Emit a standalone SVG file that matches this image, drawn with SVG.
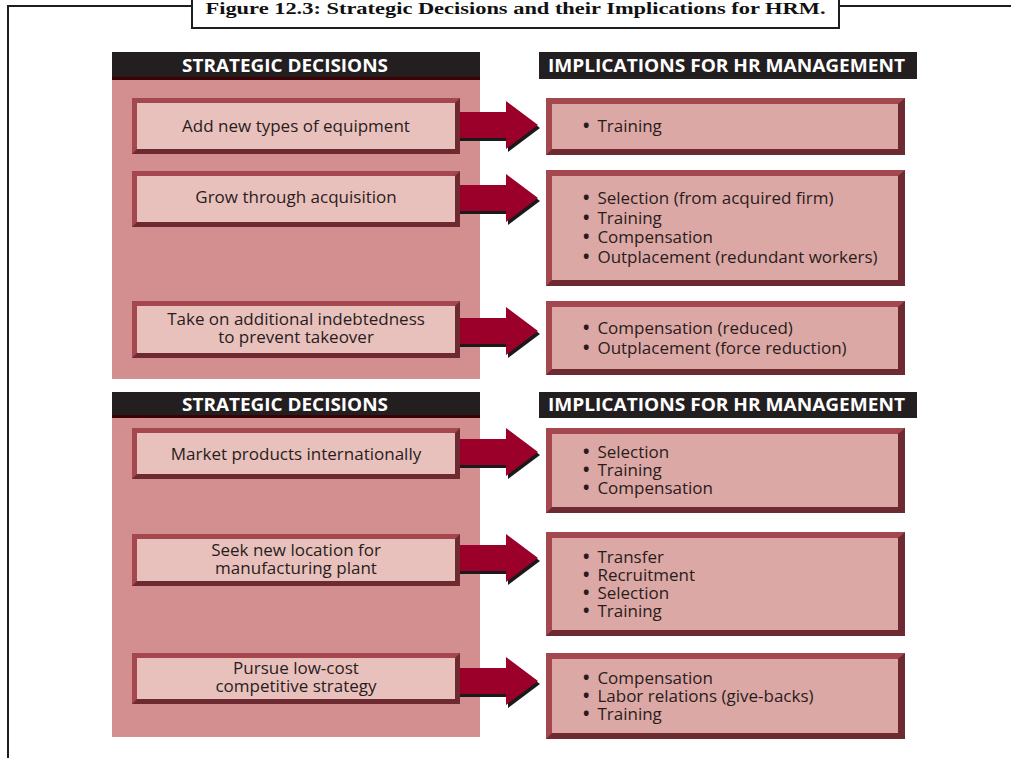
<svg xmlns="http://www.w3.org/2000/svg" width="1011" height="758" viewBox="0 0 1011 758">
<style>
.frame{fill:none;stroke:#1e1e1e;stroke-width:2}
.title{font-family:"Liberation Serif",serif;font-weight:bold;font-size:17px;fill:#111}
.hdr{fill:#231f20}
.stripe{fill:#3a0205}
.panel{fill:#d38f8f}
.hdrtxt{font-family:"Open Sans",sans-serif;font-weight:bold;font-size:17px;fill:#fff}
.bdark{fill:#6d2a31}
.blight{fill:#a5474e}
.linner{fill:#e8c1bd}
.rinner{fill:#dca8a5}
.t{font-family:"Open Sans",sans-serif;font-size:17px;fill:#2a1c1c}
.b{font-weight:bold}
.arr{fill:#9a0029}
.shd{fill:#1a1a1a}
</style>
<defs>
<g id="arrow">
<polygon class="shd" points="0,-10 48,-10 48,-21 80,3 48,27 48,16 0,16"/>
<polygon class="arr" points="0,-13 46,-13 46,-24 78,0 46,24 46,13 0,13"/>
</g>
</defs>

<g id="frame">
<polyline class="frame" points="192,6 8,6 8,758"/>
<line class="frame" x1="839" y1="6" x2="1011" y2="6"/>
<rect x="192" y="-4" width="647" height="32" fill="#fff" stroke="#1e1e1e" stroke-width="2"/>
<text class="title" x="515.5" y="14" text-anchor="middle" textLength="620" lengthAdjust="spacingAndGlyphs">Figure 12.3: Strategic Decisions and their Implications for HRM.</text>
</g>

<g id="section1-left-header">
<rect class="hdr" x="112" y="52" width="368" height="25"/>
<rect class="stripe" x="112" y="77" width="368" height="3"/>
<text class="hdrtxt" x="285" y="72" text-anchor="middle" textLength="206" lengthAdjust="spacingAndGlyphs">STRATEGIC DECISIONS</text>
</g>
<g id="section1-right-header">
<rect class="hdr" x="539" y="52" width="378" height="27"/>
<text class="hdrtxt" x="726.5" y="72" text-anchor="middle" textLength="357" lengthAdjust="spacingAndGlyphs">IMPLICATIONS FOR HR MANAGEMENT</text>
</g>
<rect id="panel1" class="panel" x="112" y="80" width="368" height="299"/>

<g id="section2-left-header">
<rect class="hdr" x="112" y="392" width="368" height="23"/>
<rect class="stripe" x="112" y="415" width="368" height="3"/>
<text class="hdrtxt" x="285" y="411" text-anchor="middle" textLength="206" lengthAdjust="spacingAndGlyphs">STRATEGIC DECISIONS</text>
</g>
<g id="section2-right-header">
<rect class="hdr" x="539" y="392" width="378" height="26"/>
<text class="hdrtxt" x="726.5" y="411" text-anchor="middle" textLength="357" lengthAdjust="spacingAndGlyphs">IMPLICATIONS FOR HR MANAGEMENT</text>
</g>
<rect id="panel2" class="panel" x="112" y="418" width="368" height="319"/>

<g id="connectors">
<use href="#arrow" x="460" y="125"/>
<use href="#arrow" x="460" y="198"/>
<use href="#arrow" x="460" y="331"/>
<use href="#arrow" x="460" y="452"/>
<use href="#arrow" x="460" y="558"/>
<use href="#arrow" x="460" y="681"/>
</g>

<g id="d1">
<rect class="bdark" x="132" y="98" width="328" height="56"/>
<polygon class="blight" points="132,98 460,98 455,103 137,103 137,149 132,154"/>
<rect class="linner" x="137" y="103" width="318" height="46"/>
<text class="t" x="296" y="132" text-anchor="middle">Add new types of equipment</text>
</g>
<g id="d2">
<rect class="bdark" x="132" y="171" width="328" height="56"/>
<polygon class="blight" points="132,171 460,171 455,176 137,176 137,222 132,227"/>
<rect class="linner" x="137" y="176" width="318" height="46"/>
<text class="t" x="296" y="203" text-anchor="middle">Grow through acquisition</text>
</g>
<g id="d3">
<rect class="bdark" x="132" y="301" width="328" height="57"/>
<polygon class="blight" points="132,301 460,301 455,306 137,306 137,353 132,358"/>
<rect class="linner" x="137" y="306" width="318" height="47"/>
<text class="t" x="296" y="325" text-anchor="middle">Take on additional indebtedness</text>
<text class="t" x="296" y="343" text-anchor="middle">to prevent takeover</text>
</g>
<g id="d4">
<rect class="bdark" x="132" y="428" width="328" height="51"/>
<polygon class="blight" points="132,428 460,428 455,433 137,433 137,474 132,479"/>
<rect class="linner" x="137" y="433" width="318" height="41"/>
<text class="t" x="296" y="460" text-anchor="middle">Market products internationally</text>
</g>
<g id="d5">
<rect class="bdark" x="132" y="534" width="328" height="52"/>
<polygon class="blight" points="132,534 460,534 455,539 137,539 137,581 132,586"/>
<rect class="linner" x="137" y="539" width="318" height="42"/>
<text class="t" x="296" y="556" text-anchor="middle">Seek new location for</text>
<text class="t" x="296" y="574" text-anchor="middle">manufacturing plant</text>
</g>
<g id="d6">
<rect class="bdark" x="132" y="653" width="328" height="51"/>
<polygon class="blight" points="132,653 460,653 455,658 137,658 137,699 132,704"/>
<rect class="linner" x="137" y="658" width="318" height="41"/>
<text class="t" x="296" y="674" text-anchor="middle">Pursue low-cost</text>
<text class="t" x="296" y="692" text-anchor="middle">competitive strategy</text>
</g>

<g id="r1">
<rect class="bdark" x="546" y="98" width="359" height="57"/>
<polygon class="blight" points="546,98 905,98 898,104 552,104 552,149 546,155"/>
<rect class="rinner" x="552" y="104" width="346" height="45"/>
<text class="t" x="583" y="132"><tspan class="b">•</tspan><tspan dx="8">Training</tspan></text>
</g>
<g id="r2">
<rect class="bdark" x="546" y="170" width="359" height="116"/>
<polygon class="blight" points="546,170 905,170 898,176 552,176 552,280 546,286"/>
<rect class="rinner" x="552" y="176" width="346" height="104"/>
<text class="t" x="583" y="204"><tspan class="b">•</tspan><tspan dx="8">Selection (from acquired firm)</tspan></text>
<text class="t" x="583" y="224"><tspan class="b">•</tspan><tspan dx="8">Training</tspan></text>
<text class="t" x="583" y="243"><tspan class="b">•</tspan><tspan dx="8">Compensation</tspan></text>
<text class="t" x="583" y="263"><tspan class="b">•</tspan><tspan dx="8">Outplacement (redundant workers)</tspan></text>
</g>
<g id="r3">
<rect class="bdark" x="546" y="301" width="359" height="74"/>
<polygon class="blight" points="546,301 905,301 898,307 552,307 552,369 546,375"/>
<rect class="rinner" x="552" y="307" width="346" height="62"/>
<text class="t" x="583" y="334"><tspan class="b">•</tspan><tspan dx="8">Compensation (reduced)</tspan></text>
<text class="t" x="583" y="354"><tspan class="b">•</tspan><tspan dx="8">Outplacement (force reduction)</tspan></text>
</g>
<g id="r4">
<rect class="bdark" x="546" y="428" width="359" height="85"/>
<polygon class="blight" points="546,428 905,428 898,434 552,434 552,507 546,513"/>
<rect class="rinner" x="552" y="434" width="346" height="73"/>
<text class="t" x="583" y="458"><tspan class="b">•</tspan><tspan dx="8">Selection</tspan></text>
<text class="t" x="583" y="476"><tspan class="b">•</tspan><tspan dx="8">Training</tspan></text>
<text class="t" x="583" y="494"><tspan class="b">•</tspan><tspan dx="8">Compensation</tspan></text>
</g>
<g id="r5">
<rect class="bdark" x="546" y="532" width="359" height="104"/>
<polygon class="blight" points="546,532 905,532 898,538 552,538 552,630 546,636"/>
<rect class="rinner" x="552" y="538" width="346" height="92"/>
<text class="t" x="583" y="563"><tspan class="b">•</tspan><tspan dx="8">Transfer</tspan></text>
<text class="t" x="583" y="581"><tspan class="b">•</tspan><tspan dx="8">Recruitment</tspan></text>
<text class="t" x="583" y="599"><tspan class="b">•</tspan><tspan dx="8">Selection</tspan></text>
<text class="t" x="583" y="617"><tspan class="b">•</tspan><tspan dx="8">Training</tspan></text>
</g>
<g id="r6">
<rect class="bdark" x="546" y="653" width="359" height="86"/>
<polygon class="blight" points="546,653 905,653 898,659 552,659 552,733 546,739"/>
<rect class="rinner" x="552" y="659" width="346" height="74"/>
<text class="t" x="583" y="684"><tspan class="b">•</tspan><tspan dx="8">Compensation</tspan></text>
<text class="t" x="583" y="702"><tspan class="b">•</tspan><tspan dx="8">Labor relations (give-backs)</tspan></text>
<text class="t" x="583" y="720"><tspan class="b">•</tspan><tspan dx="8">Training</tspan></text>
</g>
</svg>
